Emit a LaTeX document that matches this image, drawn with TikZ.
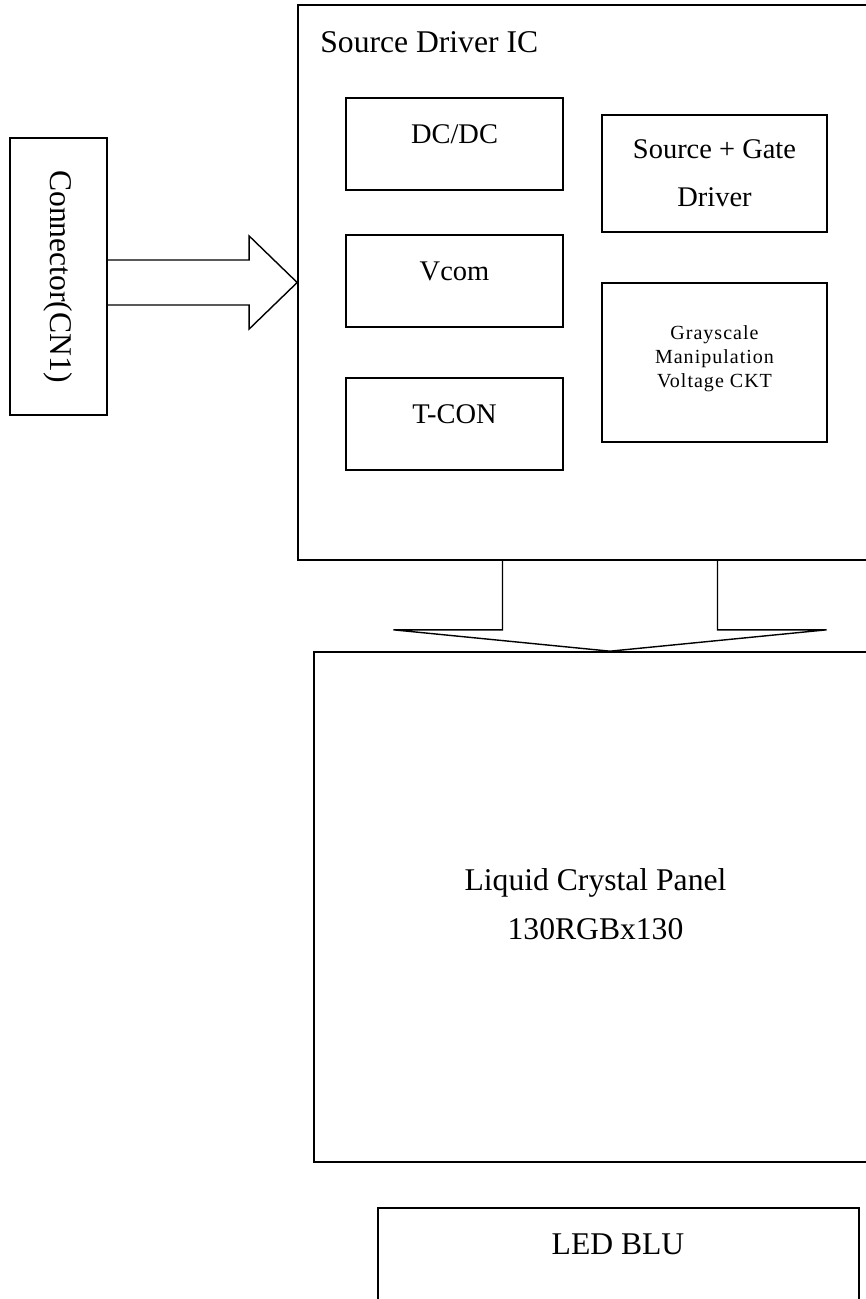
\documentclass[tikz,border=0pt]{standalone}
\usepackage{fontspec}
\setmainfont{Liberation Serif}
\newfontfamily\lcdwide[LetterSpace=5]{Liberation Serif}
\usetikzlibrary{calc,positioning}

\begin{document}
\begin{tikzpicture}[
  x=0.02cm, y=-0.02cm,
  lcdbox/.style = {draw, line width=1pt, rectangle, inner sep=0pt},
  lcdarrow/.style = {draw, line width=0.8pt, line join=miter},
  lcdbig/.style = {font=\fontsize{18}{27.9}\selectfont, inner sep=0pt, align=center},
  lcdlbl/.style = {font=\fontsize{16.2}{27.3}\selectfont, inner sep=0pt, align=center},
  lcdsmall/.style = {font=\lcdwide\fontsize{11.4}{13.6}\selectfont, inner sep=0pt, align=center}
]
  % page
  \useasboundingbox (0,0) rectangle (866,1299);
  \clip (0,0) rectangle (866,1299);
  % connector
  \node[lcdbox, minimum width=1.94cm, minimum height=5.54cm] (conn) at (58.5,276.5) {};
  \node[lcdbig, rotate=-90] (conn-txt) at (conn.center) {Connector(CN1)};
  % source driver IC
  \node[lcdbox, minimum width=12.48cm, minimum height=11.1cm] (ic) at (610,282.5) {};
  \node[lcdbig, anchor=base west] (ic-txt) at (320,52) {Source Driver IC};
  \foreach \nm/\yy/\txt in {dcdc/144/{DC/DC}, vcom/281/Vcom, tcon/424/T-CON} {
    \node[lcdbox, minimum width=4.34cm, minimum height=1.84cm] (\nm) at (454.5,\yy) {};
    \node[lcdlbl, anchor=base] (\nm-txt) at ($(\nm.north)+(0,46)$) {\txt};
  }
  \node[lcdbox, minimum width=4.5cm, minimum height=2.34cm] (sgd) at (714.5,173.5) {};
  \node[lcdlbl] (sgd-txt) at (sgd.center) {Source + Gate\\Driver};
  \node[lcdbox, minimum width=4.5cm, minimum height=3.18cm] (gray) at (714.5,362.5) {};
  \node[lcdsmall] (gray-txt) at ($(gray.center)+(0,-4)$) {Grayscale\\Manipulation\\Voltage CKT};
  % panel and backlight
  \node[lcdbox, minimum width=11.84cm, minimum height=10.2cm] (panel) at (610,907) {};
  \node[lcdbig] (panel-txt) at (595.5,904.5) {Liquid Crystal Panel\\130RGBx130};
  \node[lcdbox, minimum width=9.62cm, minimum height=3.84cm] (led) at (618.5,1304) {};
  \node[lcdbig, anchor=base] (led-txt) at (618,1254) {LED BLU};
  % connector -> IC
  \coordinate (inA) at ($(ic.west)+(-48,-22.5)$);
  \coordinate (inD) at ($(ic.west)+(-48,22.5)$);
  \draw[lcdarrow] (conn.east |- inA) -- (inA) -- ++(0,-24) -- (ic.west)
    -- ($(inD)+(0,24)$) -- (inD) -- (conn.east |- inD);
  % IC -> panel
  \coordinate (outL) at ($(ic.south)+(-107.5,0)$);
  \coordinate (outR) at ($(ic.south)+(107.5,0)$);
  \draw[lcdarrow] (outL) -- ++(0,69) -- ++(-109,0) -- (panel.north)
    -- ($(outR)+(109,69)$) -- ++(-109,0) -- (outR);
\end{tikzpicture}
\end{document}
